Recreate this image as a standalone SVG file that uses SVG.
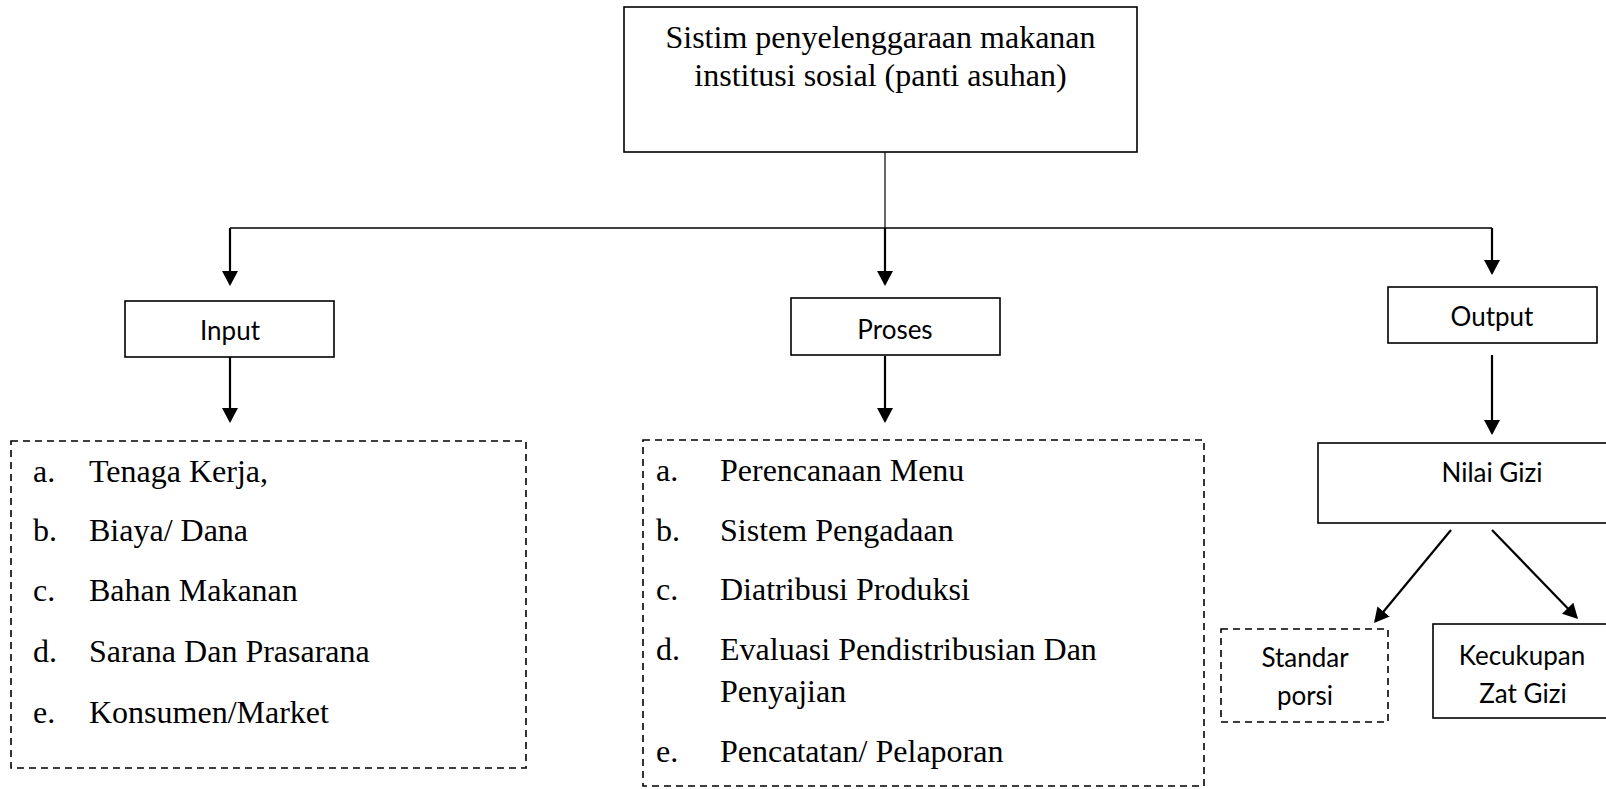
<svg xmlns="http://www.w3.org/2000/svg" width="1606" height="789" viewBox="0 0 1606 789">
<style>
.box{fill:#fff;stroke:#000;stroke-width:1.6}
.dash{fill:none;stroke:#000;stroke-width:1.6;stroke-dasharray:7 5}
.serif{font-family:"Liberation Serif","Times New Roman",serif;font-size:32px;fill:#000}
.sans{font-family:Lato,"Open Sans",sans-serif;font-size:26px;fill:#000}
.conn{fill:none;stroke:#000;stroke-width:2.2}
</style>
<defs>
<marker id="ah" viewBox="0 0 15 16" refX="13" refY="8" markerWidth="15" markerHeight="16" markerUnits="userSpaceOnUse" orient="auto">
<path d="M0,0 L15,8 L0,16 Z" fill="#000"/>
</marker>
</defs>
<rect width="1606" height="789" fill="#fff"/>
<g id="connectors">
<line x1="885" y1="145" x2="885" y2="228" stroke="#000" stroke-width="1.2"/>
<line x1="230" y1="228" x2="1492" y2="228" stroke="#000" stroke-width="1.5"/>
<line class="conn" x1="230" y1="228" x2="230" y2="284" marker-end="url(#ah)"/>
<line class="conn" x1="885" y1="228" x2="885" y2="284" marker-end="url(#ah)"/>
<line class="conn" x1="1492" y1="228" x2="1492" y2="273" marker-end="url(#ah)"/>
<line class="conn" x1="230" y1="357" x2="230" y2="421" marker-end="url(#ah)"/>
<line class="conn" x1="885" y1="356" x2="885" y2="421" marker-end="url(#ah)"/>
<line class="conn" x1="1492" y1="355" x2="1492" y2="433" marker-end="url(#ah)"/>
<line class="conn" x1="1451" y1="530" x2="1375.3" y2="621.5" marker-end="url(#ah)"/>
<line class="conn" x1="1492" y1="530" x2="1576.6" y2="617.6" marker-end="url(#ah)"/>
</g>
<g id="top">
<rect class="box" x="624" y="7" width="513" height="145"/>
<text class="serif" x="880.5" y="48" text-anchor="middle">Sistim penyelenggaraan makanan</text>
<text class="serif" x="880.5" y="86" text-anchor="middle">institusi sosial (panti asuhan)</text>
</g>
<g id="input">
<rect class="box" x="125" y="301" width="209" height="56"/>
<text class="sans" x="230" y="340" text-anchor="middle">Input</text>
</g>
<g id="proses">
<rect class="box" x="791" y="298" width="209" height="57"/>
<text class="sans" x="895" y="339" text-anchor="middle">Proses</text>
</g>
<g id="output">
<rect class="box" x="1388" y="287" width="209" height="56"/>
<text class="sans" x="1492" y="326" text-anchor="middle">Output</text>
</g>
<g id="input-list">
<rect class="dash" x="11" y="441" width="515" height="327"/>
<g class="serif">
<text x="33" y="482">a.</text><text x="89" y="482">Tenaga Kerja,</text>
<text x="33" y="541">b.</text><text x="89" y="541">Biaya/ Dana</text>
<text x="33" y="601">c.</text><text x="89" y="601">Bahan Makanan</text>
<text x="33" y="662">d.</text><text x="89" y="662">Sarana Dan Prasarana</text>
<text x="33" y="723">e.</text><text x="89" y="723">Konsumen/Market</text>
</g>
</g>
<g id="proses-list">
<rect class="dash" x="643" y="440" width="561" height="346"/>
<g class="serif">
<text x="656" y="481">a.</text><text x="720" y="481">Perencanaan Menu</text>
<text x="656" y="541">b.</text><text x="720" y="541">Sistem Pengadaan</text>
<text x="656" y="600">c.</text><text x="720" y="600">Diatribusi Produksi</text>
<text x="656" y="660">d.</text><text x="720" y="660">Evaluasi Pendistribusian Dan</text>
<text x="720" y="702">Penyajian</text>
<text x="656" y="762">e.</text><text x="720" y="762">Pencatatan/ Pelaporan</text>
</g>
</g>
<g id="nilai-gizi">
<rect class="box" x="1318" y="443" width="310" height="80"/>
<text class="sans" x="1492" y="482" text-anchor="middle">Nilai Gizi</text>
</g>
<g id="standar-porsi">
<rect class="dash" x="1221" y="629" width="167" height="93"/>
<text class="sans" x="1305" y="667" text-anchor="middle">Standar</text>
<text class="sans" x="1305" y="705" text-anchor="middle">porsi</text>
</g>
<g id="kecukupan">
<rect class="box" x="1433" y="624" width="190" height="94"/>
<text class="sans" x="1522" y="665" text-anchor="middle">Kecukupan</text>
<text class="sans" x="1523" y="703" text-anchor="middle">Zat Gizi</text>
</g>
</svg>
